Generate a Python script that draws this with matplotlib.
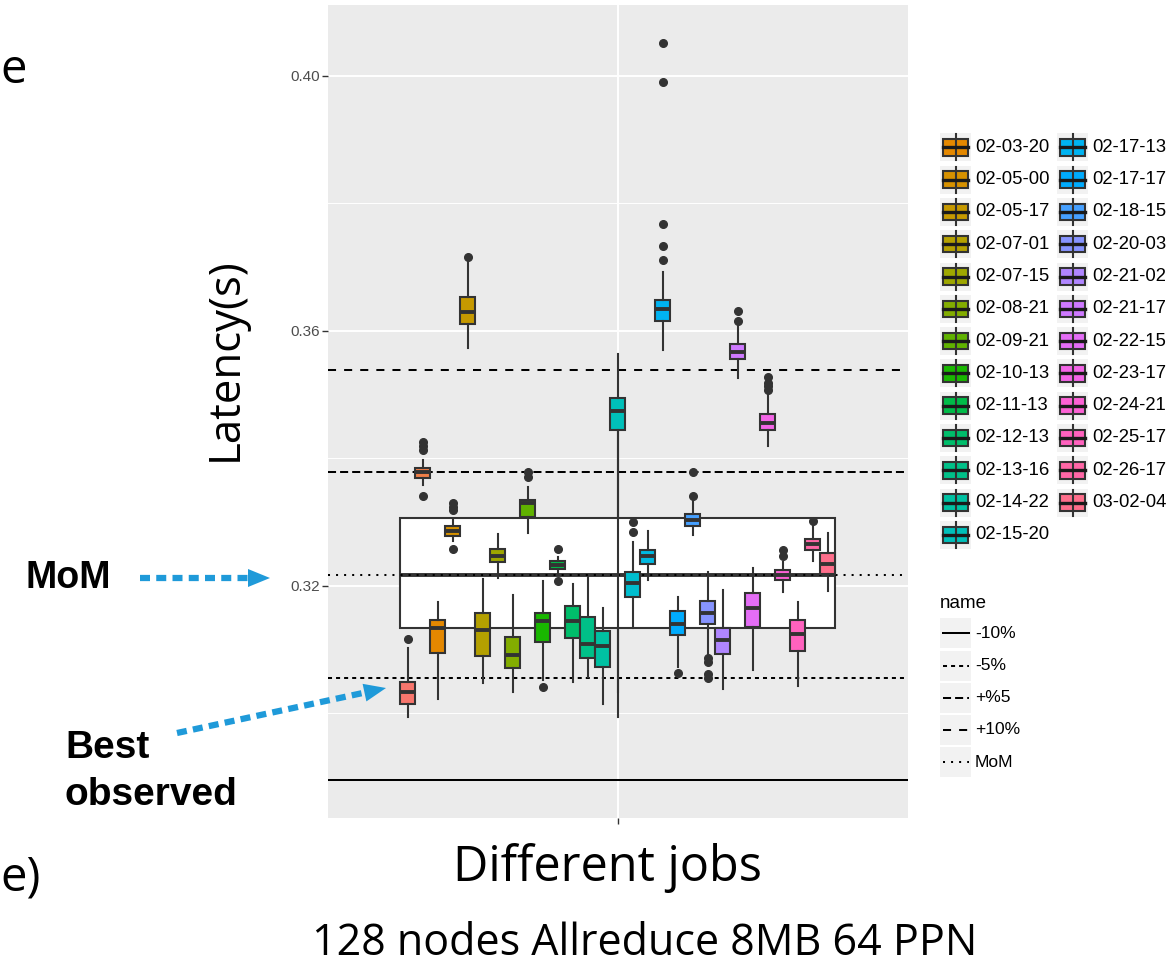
import numpy as np
import matplotlib
matplotlib.use("Agg")
import matplotlib.pyplot as plt
from matplotlib.patches import Rectangle, Polygon

plt.rcParams["font.family"] = "Liberation Sans"

W, H = 1175, 967
DARK = "#333333"
BLUE = "#1F9AD9"

# one box per job; the first two and the two after 02-15-20 are cropped out of the legend
jobs = [None, None, "02-03-20", "02-05-00", "02-05-17", "02-07-01", "02-07-15",
        "02-08-21", "02-09-21", "02-10-13", "02-11-13", "02-12-13", "02-13-16",
        "02-14-22", "02-15-20", None, None, "02-17-13", "02-17-17", "02-18-15",
        "02-20-03", "02-21-02", "02-21-17", "02-22-15", "02-23-17", "02-24-21",
        "02-25-17", "02-26-17", "03-02-04"]

whis_lo = [0.2994, 0.3358, 0.3022, 0.3270, 0.3573, 0.3047, 0.3212, 0.3034, 0.3283, 0.3052,
           0.3220, 0.3049, 0.3057, 0.3014, 0.2994, 0.3134, 0.3209, 0.3570, 0.3073, 0.3280,
           0.3091, 0.3038, 0.3526, 0.3068, 0.3419, 0.3190, 0.3043, 0.3239, 0.3192]
q1 = [0.3014, 0.3369, 0.3094, 0.3278, 0.3611, 0.3090, 0.3237, 0.3071, 0.3308, 0.3112,
      0.3226, 0.3118, 0.3087, 0.3073, 0.3445, 0.3183, 0.3234, 0.3616, 0.3123, 0.3294,
      0.3140, 0.3093, 0.3556, 0.3136, 0.3444, 0.3209, 0.3098, 0.3256, 0.3218]
median = [0.3034, 0.3378, 0.3134, 0.3286, 0.3630, 0.3131, 0.3247, 0.3091, 0.3330, 0.3145,
          0.3233, 0.3145, 0.3109, 0.3106, 0.3474, 0.3204, 0.3247, 0.3634, 0.3140, 0.3303,
          0.3158, 0.3115, 0.3567, 0.3166, 0.3455, 0.3217, 0.3125, 0.3265, 0.3235]
q3 = [0.3049, 0.3385, 0.3146, 0.3294, 0.3653, 0.3157, 0.3258, 0.3120, 0.3334, 0.3157,
      0.3239, 0.3168, 0.3151, 0.3129, 0.3495, 0.3222, 0.3256, 0.3648, 0.3161, 0.3313,
      0.3177, 0.3134, 0.3579, 0.3189, 0.3470, 0.3225, 0.3147, 0.3274, 0.3252]
whis_hi = [0.3103, 0.3397, 0.3175, 0.3303, 0.3709, 0.3211, 0.3281, 0.3185, 0.3355, 0.3207,
           0.3245, 0.3203, 0.3214, 0.3165, 0.3564, 0.3269, 0.3286, 0.3692, 0.3182, 0.3333,
           0.3222, 0.3193, 0.3608, 0.3228, 0.3500, 0.3237, 0.3175, 0.3295, 0.3283]
outliers = [[0.3116], [0.3341, 0.3413, 0.3419, 0.3426], [], [0.3258, 0.3319, 0.3323, 0.3330],
            [0.3716], [], [], [], [0.3371, 0.3379], [0.3041], [0.3208, 0.3258], [], [], [],
            [], [0.3285, 0.3300], [], [0.3711, 0.3733, 0.3767, 0.3991, 0.4052], [0.3064],
            [0.3341, 0.3378], [0.3056, 0.3062, 0.3080, 0.3087], [], [0.3615, 0.3631], [],
            [0.3508, 0.3513, 0.3518, 0.3528], [0.3247, 0.3256], [], [0.3302], []]

# box of the job medians (median of medians)
mom_stats = dict(whislo=0.3034, q1=0.3134, med=0.3217, q3=0.3306, whishi=0.3474)

ref_names = ["-10%", "-5%", "+%5", "+10%", "MoM"]
ref_values = [0.2895, 0.3056, 0.3378, 0.3539, 0.3217]
ref_styles = ["solid", (0, (2, 2)), (0, (4, 2)), (0, (4, 4)), (0, (1, 3))]


def hue_pal(n, c=100.0, l=65.0):
    # ggplot2 default discrete palette (polar LUV)
    h = np.deg2rad(np.linspace(15, 375, n + 1)[:n])
    u, v = c * np.cos(h), c * np.sin(h)
    Y = 100 * ((l + 16) / 116) ** 3
    up = u / (13 * l) + 0.1978398
    vp = v / (13 * l) + 0.4683363
    X = 9.0 * Y * up / (4 * vp)
    Z = -X / 3 - 5 * Y + 3 * Y / vp
    X, Y, Z = X / 100, Y / 100, Z / 100
    rgb = np.stack([3.240479 * X - 1.537150 * Y - 0.498535 * Z,
                    -0.969256 * X + 1.875992 * Y + 0.041556 * Z,
                    0.055648 * X - 0.204043 * Y + 1.057311 * Z], axis=1)
    rgb = np.where(rgb > 0.00304, 1.055 * np.abs(rgb) ** (1 / 2.4) - 0.055, 12.92 * rgb)
    return [tuple(x) for x in np.clip(rgb, 0, 1)]


colors = hue_pal(len(jobs))

fig = plt.figure(figsize=(W / 100, H / 100), dpi=100)
ax = fig.add_axes([328 / W, 1 - 818 / H, (907.7 - 328) / W, (818 - 5) / H])
ax.set_facecolor("#EBEBEB")
for s in ax.spines.values():
    s.set_visible(False)

n = len(jobs)
slot = 0.9 / n
pos = 1 + (np.arange(n) - (n - 1) / 2) * slot

common = dict(patch_artist=True, showcaps=False, manage_ticks=False,
              boxprops=dict(edgecolor=DARK, linewidth=1.5),
              whiskerprops=dict(color=DARK, linewidth=1.5),
              medianprops=dict(color=DARK, linewidth=2.8))

mom = ax.bxp([mom_stats], positions=[1], widths=0.9, showfliers=False, zorder=1.5, **common)
mom["boxes"][0].set_facecolor("white")

for val, ls in zip(ref_values, ref_styles):
    ax.axhline(val, color="black", lw=1.45, linestyle=ls, zorder=2)

stats = [dict(whislo=a, q1=b, med=m, q3=c, whishi=d, fliers=f)
         for a, b, m, c, d, f in zip(whis_lo, q1, median, q3, whis_hi, outliers)]
art = ax.bxp(stats, positions=pos, widths=slot, zorder=3,
             flierprops=dict(marker="o", markerfacecolor=DARK, markeredgecolor=DARK,
                             markersize=5.5), **common)
for patch, c in zip(art["boxes"], colors):
    patch.set_facecolor(c)

ax.set_xlim(0.4, 1.6)
ax.set_ylim(0.2836, 0.4111)
ax.set_yticks([0.32, 0.36, 0.40])
ax.set_yticklabels(["0.32", "0.36", "0.40"])
ax.set_yticks([0.30, 0.34, 0.38], minor=True)
ax.set_xticks([1])
ax.set_xticklabels([""])
ax.set_axisbelow(True)
ax.grid(which="major", color="white", lw=1.4)
ax.grid(which="minor", axis="y", color="white", lw=0.7)
ax.tick_params(which="major", length=4, width=1.0, color=DARK, labelcolor="#4D4D4D",
               labelsize=11, pad=2)
ax.tick_params(which="minor", length=0)

# overlay in image pixel coordinates for legends and slide annotations
ov = fig.add_axes([0, 0, 1, 1])
ov.set_xlim(0, W)
ov.set_ylim(H, 0)
ov.axis("off")

# fill legend: two columns, top two rows cropped away
rows = (n + 1) // 2
for i, (lab, c) in enumerate(zip(jobs, colors)):
    if lab is None:
        continue
    col, row = divmod(i, rows)
    yc = 147.3 + (row - 2) * 32.3
    x0 = 940 if col == 0 else 1057
    ov.add_patch(Rectangle((x0, yc - 14), 31, 28, fc="#F2F2F2", ec="none"))
    ov.plot([x0 + 15.5, x0 + 15.5], [yc - 13, yc + 13], color=DARK, lw=1.5)
    ov.add_patch(Rectangle((x0 + 3, yc - 8.3), 25, 16.6, fc=c, ec=DARK, lw=1.5))
    ov.plot([x0 + 3, x0 + 28], [yc, yc], color="#1a1a1a", lw=2.4)
    ov.text(x0 + 35.5, yc, lab, fontsize=13.3, va="center", ha="left", color="black")

# line type legend
ov.text(940, 603, "name", fontsize=13.5, va="center", ha="left")
for k, (lab, ls) in enumerate(zip(ref_names, ref_styles)):
    yc = 633.3 + k * 32.2
    ov.add_patch(Rectangle((940, yc - 15), 31, 30, fc="#F2F2F2", ec="none"))
    ov.plot([942.5, 968.5], [yc, yc], color="black", lw=1.45, linestyle=ls)
    ov.text(975, yc, lab, fontsize=12.5, va="center", ha="left")

# slide text
ov.text(226, 359, "Latency(s)", fontsize=31.5, rotation=90, va="center", ha="center",
        family="Open Sans")
ov.text(607, 868, "Different jobs", fontsize=35, va="center", ha="center", family="Open Sans")
ov.text(645, 944, "128 nodes Allreduce 8MB 64 PPN", fontsize=31, va="center", ha="center",
        family="Open Sans")
ov.text(0, 70, "e", fontsize=34, va="center", ha="left", family="Open Sans")
ov.text(0, 878, "e)", fontsize=34, va="center", ha="left", family="Open Sans")
ov.text(25, 578, "MoM", fontsize=27, fontweight="bold", va="center", ha="left")
ov.text(65, 748, "Best", fontsize=28, fontweight="bold", va="center", ha="left")
ov.text(65, 795, "observed", fontsize=28, fontweight="bold", va="center", ha="left")


def arrow(x0, y0, x1, y1, head=22, half=9):
    d = np.array([x1 - x0, y1 - y0], float)
    u = d / np.hypot(*d)
    nrm = np.array([-u[1], u[0]])
    base = np.array([x1, y1]) - head * u
    ov.plot([x0, base[0] + 2 * u[0]], [y0, base[1] + 2 * u[1]], color=BLUE, lw=4.5,
            linestyle=(0, (1.6, 1.0)), solid_capstyle="butt")
    ov.add_patch(Polygon([[x1, y1], base + half * nrm, base - half * nrm],
                         closed=True, fc=BLUE, ec="none"))


arrow(140, 578, 270, 578)
arrow(177, 733, 386, 688)

fig.savefig("out.png", dpi=100, facecolor="white")
